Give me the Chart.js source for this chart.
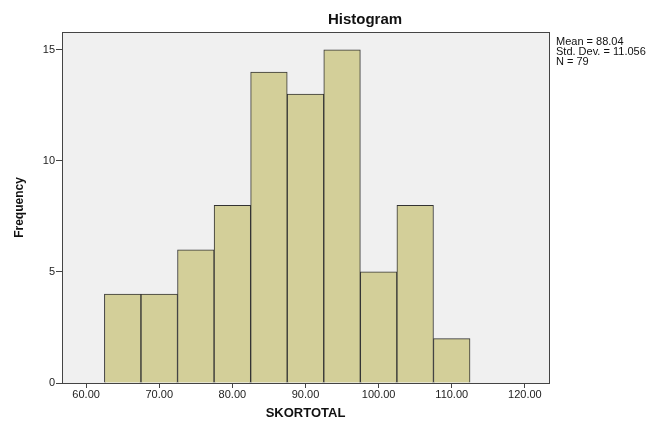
<!DOCTYPE html>
<html>
<head>
<meta charset="utf-8">
<script src="https://cdn.jsdelivr.net/npm/chart.js@4"></script>
<style>
  body { margin: 0; background: #fff; }
  #wrap { width: 659px; height: 421px; }
</style>
</head>
<body>
<div id="wrap"><canvas id="histChart" width="659" height="421"></canvas></div>
<script>
// bin centres and counts
let binCentres = [65, 70, 75, 80, 85, 90, 95, 100, 105, 110];
let counts = [4, 4, 6, 8, 14, 13, 15, 5, 8, 2];
let statLines = ["Mean = 88.04", "Std. Dev. = 11.056", "N = 79"];
let xTicks = [60, 70, 80, 90, 100, 110, 120];
let yTicks = [0, 5, 10, 15];

let points = binCentres.map((c, i) => ({ x: c, y: counts[i] }));

let panel = {
  id: "panel",
  beforeDraw(chart) {
    let a = chart.chartArea, ctx = chart.ctx;
    ctx.save();
    ctx.fillStyle = "#f0f0f0";
    ctx.fillRect(a.left, a.top, a.right - a.left, a.bottom - a.top);
    ctx.restore();
  },
  afterDraw(chart) {
    let a = chart.chartArea, ctx = chart.ctx;
    ctx.save();
    ctx.strokeStyle = "#444";
    ctx.lineWidth = 1;
    ctx.strokeRect(a.left + 0.5, a.top + 0.5, a.right - a.left, a.bottom - a.top);
    ctx.fillStyle = "#111";
    ctx.font = "bold 15px 'Liberation Sans', Arial, sans-serif";
    ctx.textAlign = "center";
    ctx.textBaseline = "middle";
    ctx.fillText("Histogram", 365, 20);
    ctx.font = "11px 'Liberation Sans', Arial, sans-serif";
    ctx.textAlign = "left";
    statLines.forEach((t, i) => ctx.fillText(t, 556, 42 + i * 10));
    ctx.restore();
  }
};

new Chart("histChart", {
  type: "bar",
  data: {
    datasets: [{
      data: points,
      backgroundColor: "#d3cf99",
      borderColor: "#333",
      borderWidth: 1,
      barPercentage: 1,
      categoryPercentage: 1
    }]
  },
  plugins: [panel],
  options: {
    responsive: false,
    animation: false,
    layout: { padding: { top: 32, right: 110, left: 12, bottom: 0 } },
    plugins: { legend: { display: false }, tooltip: { enabled: false } },
    scales: {
      x: {
        type: "linear",
        offset: false,
        min: 56.7,
        max: 123.3,
        afterBuildTicks(s) { s.ticks = xTicks.map(v => ({ value: v })); },
        afterFit(s) { s.height = 38; },
        ticks: {
          color: "#222",
          padding: 0,
          maxRotation: 0,
          font: { size: 11, family: "'Liberation Sans', Arial, sans-serif" },
          callback: v => v.toFixed(2)
        },
        grid: { offset: false, drawOnChartArea: false, drawTicks: true, tickLength: 5, color: "#444" },
        border: { color: "#444" },
        title: {
          display: true,
          text: "SKORTOTAL",
          color: "#111",
          padding: { top: 2, bottom: 0 },
          font: { size: 13, weight: "bold", family: "'Liberation Sans', Arial, sans-serif" }
        }
      },
      y: {
        min: 0,
        max: 15.8,
        afterBuildTicks(s) { s.ticks = yTicks.map(v => ({ value: v })); },
        afterFit(s) { s.width = 50; },
        ticks: {
          color: "#222",
          padding: 1,
          font: { size: 11, family: "'Liberation Sans', Arial, sans-serif" }
        },
        grid: { drawOnChartArea: false, drawTicks: true, tickLength: 6, color: "#444" },
        border: { color: "#444" },
        title: {
          display: true,
          text: "Frequency",
          color: "#111",
          padding: { top: 0, bottom: 8 },
          font: { size: 12, weight: "bold", family: "'Liberation Sans', Arial, sans-serif" }
        }
      }
    }
  }
});
</script>
</body>
</html>
